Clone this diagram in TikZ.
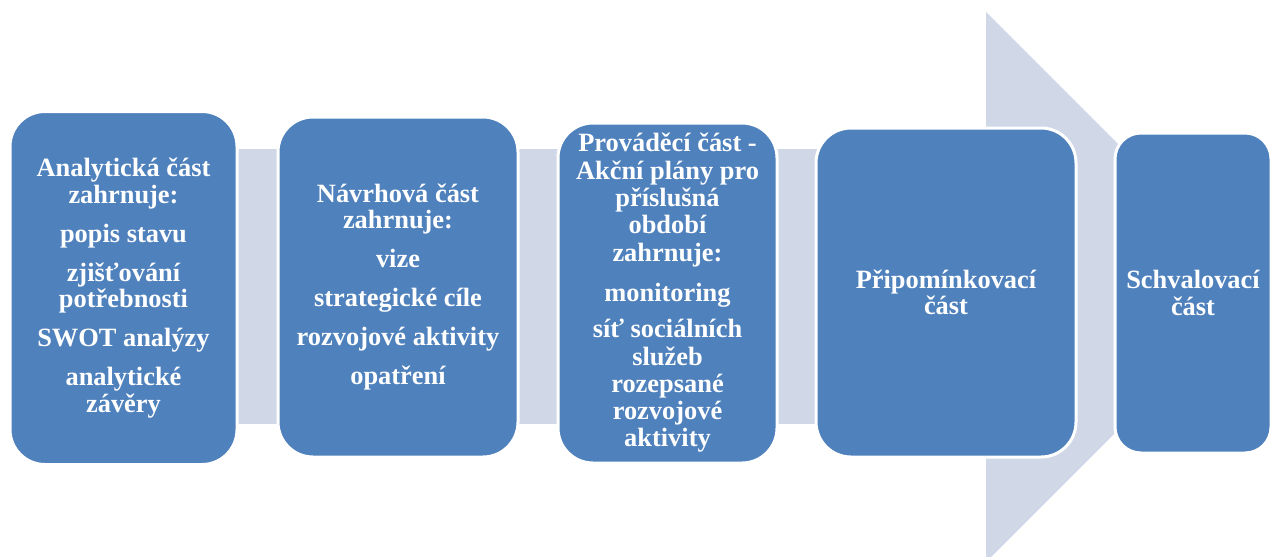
\documentclass[tikz,border=0pt]{standalone}
\usepackage{fontspec}
\setmainfont{Liberation Serif}
\definecolor{boxblue}{HTML}{4F81BD}
\definecolor{arrowgrey}{HTML}{D0D8E8}
\begin{document}
\begin{tikzpicture}[x=1pt,y=-1pt,
  box/.style={draw=white, line width=3pt, fill=boxblue, rounded corners=#1,
    text=white, font=\bfseries\fontsize{26.4}{26.5}\selectfont, align=center,
    inner sep=0pt, shape=rectangle},
  box/.default=35pt]
\useasboundingbox (0,0) rectangle (1272,557);
\begin{scope}
\clip (0,0) rectangle (1272,557);
\fill[arrowgrey] (10,149) rectangle (986,424);
\fill[arrowgrey] (986,12) -- (1261,287) -- (986,562) -- cycle;
\end{scope}
\node[box, minimum width=227pt, minimum height=353pt] (b1) at (123.5,288)
  {Analytická část\\zahrnuje:\\[12.5pt]popis stavu\\[12.5pt]zjišťování\\potřebnosti\\[12.5pt]SWOT analýzy\\[12.5pt]analytické\\závěry};
\node[box, minimum width=240pt, minimum height=340pt] (b2) at (398,287)
  {Návrhová část\\zahrnuje:\\[12.5pt]vize\\[12.5pt]strategické cíle\\[12.5pt]rozvojové aktivity\\[12.5pt]opatření};
\node[box, minimum width=219pt, minimum height=340pt,
  font=\bfseries\fontsize{26.4}{27.3}\selectfont] (b3) at (667.5,293)
  {Prováděcí část -\\Akční plány pro\\příslušná\\období\\zahrnuje:\\[13pt]monitoring\\[9pt]síť sociálních\\služeb\\rozepsané\\rozvojové\\aktivity};
\node[box, minimum width=260pt, minimum height=329pt] (b4) at (946,292.5)
  {Připomínkovací\\část};
\node[box=26pt, minimum width=156pt, minimum height=320pt] (b5) at (1193,293)
  {Schvalovací\\část};
\end{tikzpicture}
\end{document}
